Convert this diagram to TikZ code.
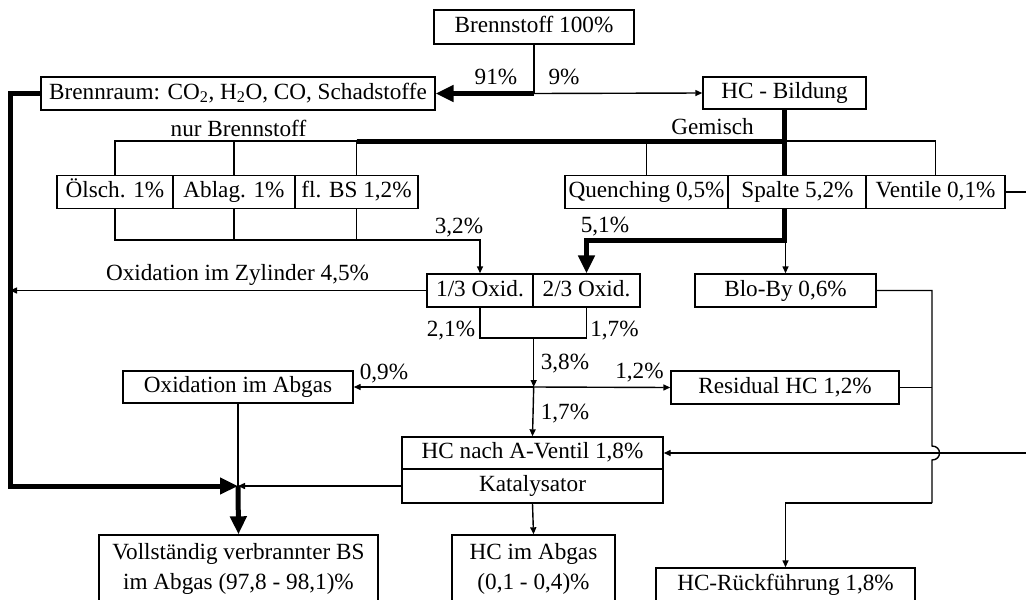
\documentclass[tikz,border=0pt]{standalone}
\usepackage{fontspec}
\setmainfont{Liberation Serif}
\usetikzlibrary{arrows.meta}
\begin{document}
\begin{tikzpicture}[x=1pt,y=-1pt,
  font=\fontsize{23.2}{29.5}\selectfont,
  box/.style={draw, line width=1.4pt, fill=white, inner sep=0pt, minimum height=33pt},
  onebox/.style={box, text height=16pt, text depth=4.5pt},
  twobox/.style={box, align=center, minimum height=68pt},
  flow/.style={line width=1.4pt},
  flowarrow/.style={line width=1.4pt, -{Triangle[length=7pt,width=6pt]}},
  main/.style={line width=5pt},
  mainarrow/.style={line width=5pt, -{Triangle[length=18pt,width=16pt]}},
  pct/.style={inner sep=0pt}]
\path[use as bounding box] (0,0) rectangle (1026,600);
\clip (0,0) rectangle (1026,600);

% boxes
\node[onebox, minimum width=200pt, minimum height=34pt] (bs) at (534,27) {Brennstoff 100\%};
\node[onebox, minimum width=394pt] (br) at (238,93.5) {Brennraum: CO\textsubscript{2}, H\textsubscript{2}O, CO, Schadstoffe};
\node[onebox, minimum width=163pt, minimum height=32pt] (hcb) at (784.5,93) {HC - Bildung};

\node[onebox, minimum width=116pt] (oel) at (115,192) {Ölsch. 1\%};
\node[onebox, minimum width=122pt] (abl) at (234,192) {Ablag. 1\%};
\node[onebox, minimum width=123pt] (flbs) at (356.5,192) {fl. BS 1,2\%};
\node[onebox, minimum width=163pt] (que) at (646.5,192) {Quenching 0,5\%};
\node[onebox, minimum width=139pt] (spa) at (797.5,192) {Spalte 5,2\%};
\node[onebox, minimum width=139pt] (ven) at (935.5,192) {Ventile 0,1\%};

\node[onebox, minimum width=106pt] (ox1) at (480,290.5) {1/3 Oxid.};
\node[onebox, minimum width=107pt] (ox2) at (586.5,290.5) {2/3 Oxid.};
\node[onebox, minimum width=181pt] (bb) at (785.5,290.5) {Blo-By 0,6\%};

\node[onebox, minimum width=230pt, minimum height=32pt] (oxa) at (238,387) {Oxidation im Abgas};
\node[onebox, minimum width=228pt] (res) at (785,387.5) {Residual HC 1,2\%};

\node[onebox, minimum width=261pt, minimum height=32pt] (hcv) at (532.5,453) {HC nach A-Ventil 1,8\%};
\node[onebox, minimum width=261pt, minimum height=34pt] (kat) at (532.5,486) {Katalysator};

\node[twobox, minimum width=279pt] (voll) at (238.5,569)
  {Vollständig verbrannter BS\\im Abgas (97,8 - 98,1)\%};
\node[twobox, minimum width=163pt] (hca) at (533.5,569)
  {HC im Abgas\\(0,1 - 0,4)\%};
\node[onebox, minimum width=259pt, minimum height=34pt] (hcr) at (785.5,585) {HC-Rückführung 1,8\%};

% helper coordinates
\coordinate (bar) at (0,141);
\coordinate (bar2) at (0,240);
\coordinate (lx) at (10,0);
\coordinate (rx) at (932,0);
\coordinate (p0) at (bs.south |- br.east);
\coordinate (j) at (oxa.south |- kat.west);
\coordinate (s1) at (hcb.south |- spa.south);
\coordinate (m) at (ox1.east |- 0,338);
\coordinate (k) at (m |- oxa.east);
\coordinate (ro) at (1026,192);
\coordinate (ri) at (1026,453);

% fuel split
\draw[flow] (bs.south) -- (p0);
\draw[mainarrow] (p0) -- (br.east);
\draw[flowarrow] (p0) -- (hcb.west);
\node[pct] at (496,77) {91\%};
\node[pct] at (564,77) {9\%};

% burnt fuel path
\draw[mainarrow] (br.west) -| (lx |- j) -- (j);
\draw[flow] (oxa.south) -- (j);
\draw[flowarrow] (kat.west) -- (j);
\draw[mainarrow] (j) -- (voll.north);

% distribution bar
\node[pct] at (238.5,128) {nur Brennstoff};
\node[pct] at (712.5,127) {Gemisch};
\draw[flow] (oel.north) |- (flbs.north |- bar) -- (flbs.north);
\draw[flow] (abl.north) -- (abl.north |- bar);
\draw[main] (flbs.north |- bar) -- (hcb.south |- bar);
\draw[main] (hcb.south) -- (hcb.south |- spa.north);
\draw[flow] (hcb.south |- bar) -| (ven.north);
\draw[flow] (que.north) -- (que.north |- bar);
\draw[flow] (ven.east) -- (ro);

% fuel-only sources to oxidation
\draw[flowarrow] (oel.south) |- (ox1.north |- bar2) -- (ox1.north);
\draw[flow] (abl.south) -- (abl.south |- bar2);
\draw[flow] (flbs.south) -- (flbs.south |- bar2);
\node[pct] at (459,228) {3,2\%};

% crevice flow
\draw[mainarrow] (s1) |- (ox2.north |- bar2) -- (ox2.north);
\draw[flowarrow] (bb.north |- bar2) -- (bb.north);
\node[pct] at (605,227) {5,1\%};

% oxidation in cylinder
\draw[flowarrow] (ox1.west) -- (lx |- ox1.west);
\node[pct] at (237.5,275) {Oxidation im Zylinder 4,5\%};

% unburnt remainder
\draw[flow] (ox1.south) |- (m) -| (ox2.south);
\node[pct] at (451,331) {2,1\%};
\node[pct] at (614.5,331) {1,7\%};
\draw[flowarrow] (m) -- (k);
\draw[flowarrow] (k) -- (hcv.north);
\draw[flowarrow] (k) -- (oxa.east);
\draw[flowarrow] (k) -- (res.west);
\node[pct] at (384,374) {0,9\%};
\node[pct] at (565,364) {3,8\%};
\node[pct] at (639.5,373) {1,2\%};
\node[pct] at (565,414) {1,7\%};

% return line
\draw[flow] (bb.east) -- (rx |- bb.east) -- (932,446)
  .. controls (942,446) and (942,460) .. (932,460) -- (932,503);
\draw[flowarrow] (932,503) -| (hcr.north);
\draw[flow] (res.east) -- (rx |- res.east);
\draw[flowarrow] (ri) -- (hcv.east);

% catalyst outlet
\draw[flowarrow] (kat.south) -- (hca.north);
\end{tikzpicture}
\end{document}
